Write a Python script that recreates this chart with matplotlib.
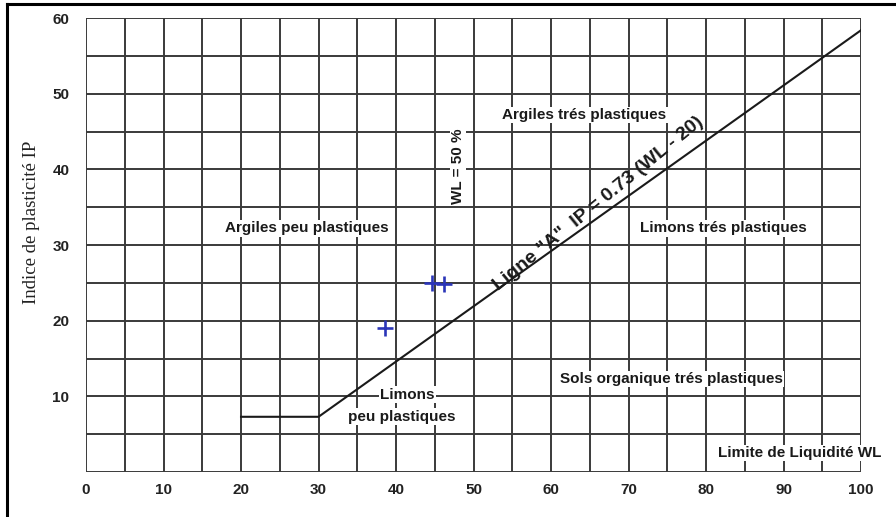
import math
import matplotlib
matplotlib.use("Agg")
import matplotlib.pyplot as plt
from matplotlib.lines import Line2D
from matplotlib.transforms import offset_copy

# Casagrande plasticity chart: liquid limit WL vs plasticity index IP
wl_ticks = [0, 10, 20, 30, 40, 50, 60, 70, 80, 90, 100]
ip_ticks = [10, 20, 30, 40, 50, 60]

# "A" line: IP = 0.73 (WL - 20), with the horizontal step below WL = 30
a_coef = 0.73
a_offset = 20
a_line_wl = [20, 30, 100]

# Measured samples
sample_wl = [38.6, 44.6, 46.2]
sample_ip = [19.1, 25.0, 24.9]

fig = plt.figure(figsize=(8.96, 5.17), dpi=100)
ax = fig.add_axes([0.096, 0.087, 0.865, 0.878])
ax.set_xlim(0, 100)
ax.set_ylim(0, 60)

grid_color = "#3a3a3a"
for v in range(0, 101, 5):
    ax.axvline(v, color=grid_color, lw=1.4, zorder=1)
for v in range(0, 61, 5):
    ax.axhline(v, color=grid_color, lw=1.4, zorder=1)

for s in ax.spines.values():
    s.set_visible(False)

ax.set_xticks(wl_ticks)
ax.set_yticks(ip_ticks)
ax.tick_params(axis="x", length=0, pad=8)
ax.tick_params(axis="y", length=0, pad=12)
for lab in ax.get_xticklabels() + ax.get_yticklabels():
    lab.set_fontfamily("Liberation Sans")
    lab.set_fontweight("bold")
    lab.set_fontsize(11)
    lab.set_color("#222222")

ax.set_ylabel("Indice de plasticité IP", fontfamily="Liberation Serif",
              fontsize=13.5, color="#222222")
ax.yaxis.set_label_coords(-0.060, 0.55)

# "A" line
a_ip = [a_coef * (max(w, 30) - a_offset) for w in a_line_wl]
ax.plot(a_line_wl, a_ip, color="#1a1a1a", lw=1.5, zorder=3)

# Samples
ax.plot(sample_wl, sample_ip, linestyle="none", marker="+", markersize=12,
        markeredgewidth=1.9, color="#2b35b8", zorder=5)

txt = dict(fontfamily="Liberation Sans", fontweight="bold", fontsize=11,
           color="#1a1a1a", ha="center", va="center", zorder=4,
           bbox=dict(facecolor="white", edgecolor="none", pad=1.0))

ax.text(64.3, 47.2, "Argiles trés plastiques", **txt)
ax.text(28.5, 32.2, "Argiles peu plastiques", **txt)
ax.text(82.2, 32.2, "Limons trés plastiques", **txt)
ax.text(75.5, 12.3, "Sols organique trés plastiques", **txt)
ax.text(41.5, 10.2, "Limons", **txt)
ax.text(40.7, 7.3, "peu plastiques", **txt)
ax.text(92.1, 2.5, "Limite de Liquidité WL", **txt)
ax.text(48.0, 40.4, "WL = 50 %", rotation=90, **txt)

# Label laid along the "A" line, resting just above it
p0 = ax.transData.transform((30, 0))
p1 = ax.transData.transform((100, a_coef * (100 - a_offset)))
angle = math.degrees(math.atan2(p1[1] - p0[1], p1[0] - p0[0]))
gap = 2.0
off = offset_copy(ax.transData, fig=fig,
                  x=-gap * math.sin(math.radians(angle)),
                  y=gap * math.cos(math.radians(angle)), units="points")
wl_mid = 67.0
ax.text(wl_mid, a_coef * (wl_mid - a_offset), 'Ligne "A"  IP = 0.73 (WL - 20)',
        rotation=angle, rotation_mode="anchor", transform=off,
        fontfamily="Liberation Sans", fontweight="bold", fontsize=14,
        color="#1a1a1a", ha="center", va="bottom", zorder=4)

# Page frame edges (left and top)
fig.add_artist(Line2D([7 / 896, 7 / 896], [0, 1 - 4 / 517],
                      transform=fig.transFigure, color="black", lw=2.2))
fig.add_artist(Line2D([7 / 896, 1], [1 - 4 / 517, 1 - 4 / 517],
                      transform=fig.transFigure, color="black", lw=2.2))

fig.savefig("out.png", dpi=100)
